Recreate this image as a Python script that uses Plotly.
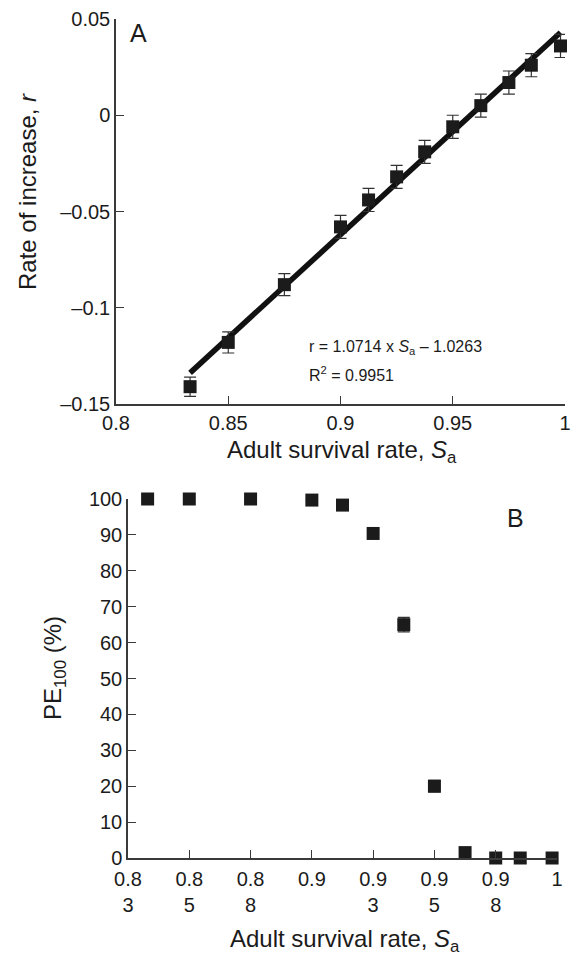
import plotly.graph_objects as go

# ---- data ----
sa = [0.833, 0.85, 0.875, 0.9, 0.9125, 0.925, 0.9375, 0.95, 0.9625, 0.975, 0.985, 0.998]
r_vals = [-0.141, -0.118, -0.088, -0.058, -0.044, -0.032, -0.019, -0.006, 0.005, 0.017, 0.026, 0.036]
r_err = [0.005, 0.0055, 0.0057, 0.006, 0.006, 0.006, 0.006, 0.006, 0.006, 0.006, 0.006, 0.006]
pe100 = [100, 100, 100, 99.7, 98.3, 90.4, 65, 20, 1.5, 0, 0, 0]
pe_err = [0, 0, 0, 0.2, 0.3, 0.5, 2.0, 1.6, 0.4, 0, 0, 0]
slope, intercept = 1.0714, -1.0263
fit_x = [sa[0], sa[-1]]
fit_y = [slope * x + intercept for x in fit_x]

top_xticks = [0.8, 0.85, 0.9, 0.95, 1.0]
top_xtext = ["0.8", "0.85", "0.9", "0.95", "1"]
top_yticks = [-0.15, -0.1, -0.05, 0, 0.05]
top_ytext = ["\u20130.15", "\u20130.1", "\u20130.05", "0", "0.05"]
bot_xticks = [0.825, 0.85, 0.875, 0.9, 0.925, 0.95, 0.975, 1.0]
bot_xtext = ["0.8<br>3", "0.8<br>5", "0.8<br>8", "0.9", "0.9<br>3", "0.9<br>5", "0.9<br>8", "1"]
bot_yticks = [0, 10, 20, 30, 40, 50, 60, 70, 80, 90, 100]

W, H = 574, 956
INK = "#1b1b1b"
AX = "#3a3a3a"
FONT = "Liberation Sans, Arial, sans-serif"

def px_x(p):
    return p / W

def px_y(p):
    return (H - p) / H

fig = go.Figure()

fig.add_trace(go.Scatter(
    x=fit_x, y=fit_y, mode="lines",
    line=dict(color="#111111", width=5.5),
    xaxis="x", yaxis="y", showlegend=False, hoverinfo="skip",
))
fig.add_trace(go.Scatter(
    x=sa, y=r_vals, mode="markers",
    marker=dict(symbol="square", size=13, color=INK, line=dict(width=0)),
    error_y=dict(type="data", array=r_err, visible=True, color="#333333", thickness=1.2, width=6),
    xaxis="x", yaxis="y", showlegend=False, cliponaxis=False,
))
fig.add_trace(go.Scatter(
    x=sa, y=pe100, mode="markers",
    marker=dict(symbol="square", size=13, color=INK, line=dict(width=0)),
    error_y=dict(type="data", array=pe_err, visible=True, color="#333333", thickness=1.2, width=6),
    xaxis="x2", yaxis="y2", showlegend=False, cliponaxis=False,
))

axis_common = dict(
    showgrid=False, zeroline=False, showline=True, linecolor=AX, linewidth=1.5,
    ticks="inside", ticklen=8, tickwidth=1.2, tickcolor=AX,
    tickfont=dict(family=FONT, size=20, color=INK), automargin=False,
)

fig.update_layout(
    width=W, height=H,
    margin=dict(l=0, r=0, t=0, b=0),
    paper_bgcolor="white", plot_bgcolor="white",
    font=dict(family=FONT, color=INK),
    xaxis=dict(domain=[px_x(116), px_x(565)], range=[0.8, 1.0], anchor="y",
               tickvals=top_xticks, ticktext=top_xtext, **axis_common),
    yaxis=dict(domain=[px_y(404), px_y(19)], range=[-0.15, 0.05], anchor="x",
               tickvals=top_yticks, ticktext=top_ytext, **axis_common),
    xaxis2=dict(domain=[px_x(128), px_x(557)], range=[0.825, 1.0], anchor="y2",
                tickvals=bot_xticks, ticktext=bot_xtext, ticklabelstandoff=2, **axis_common),
    yaxis2=dict(domain=[px_y(858), px_y(499)], range=[0, 100], anchor="x2",
                tickvals=bot_yticks, **axis_common),
)

ann = []
title_font = dict(family=FONT, size=24, color=INK)
ann.append(dict(text="Adult survival rate, <i>S</i><sub>a</sub>", x=px_x(342), y=px_y(452),
                xref="paper", yref="paper", showarrow=False, font=title_font,
                xanchor="center", yanchor="middle"))
ann.append(dict(text="Adult survival rate, <i>S</i><sub>a</sub>", x=px_x(345), y=px_y(940),
                xref="paper", yref="paper", showarrow=False, font=title_font,
                xanchor="center", yanchor="middle"))
ann.append(dict(text="Rate of increase, <i>r</i>", x=px_x(28), y=px_y(192),
                xref="paper", yref="paper", showarrow=False, font=title_font, textangle=-90,
                xanchor="center", yanchor="middle"))
ann.append(dict(text="PE<sub>100</sub> (%)", x=px_x(54), y=px_y(668),
                xref="paper", yref="paper", showarrow=False, font=title_font, textangle=-90,
                xanchor="center", yanchor="middle"))
ann.append(dict(text="A", x=px_x(128), y=px_y(33), xref="paper", yref="paper",
                showarrow=False, font=dict(family=FONT, size=25, color=INK),
                xanchor="left", yanchor="middle"))
ann.append(dict(text="B", x=px_x(505), y=px_y(518), xref="paper", yref="paper",
                showarrow=False, font=dict(family=FONT, size=25, color=INK),
                xanchor="left", yanchor="middle"))
eq_font = dict(family=FONT, size=16, color=INK)
ann.append(dict(text="r = 1.0714 x <i>S</i><sub>a</sub> \u2013 1.0263", x=0.885, y=-0.1204,
                xref="x", yref="y", showarrow=False, font=eq_font,
                xanchor="left", yanchor="middle"))
ann.append(dict(text="R<sup>2</sup> = 0.9951", x=0.885, y=-0.1344,
                xref="x", yref="y", showarrow=False, font=eq_font,
                xanchor="left", yanchor="middle"))
fig.update_layout(annotations=ann)

fig.write_html(
    "out.html",
    config={"displayModeBar": False},
    post_script="document.body.style.margin='0';document.body.style.overflow='hidden';",
)
